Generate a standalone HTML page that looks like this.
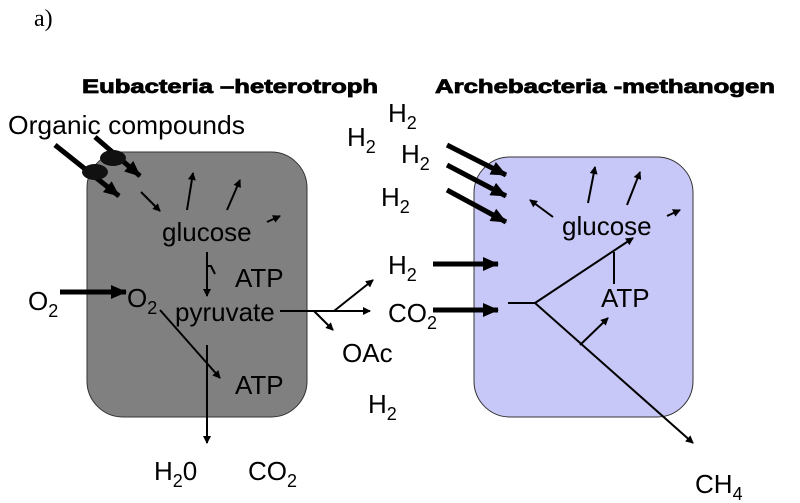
<!DOCTYPE html>
<html><head><meta charset="utf-8"><style>
html,body{margin:0;padding:0;background:#fff;}
svg{display:block;}
text{font-family:"Liberation Sans",sans-serif;fill:#000;}
</style></head><body>
<svg width="800" height="503" viewBox="0 0 800 503" xmlns="http://www.w3.org/2000/svg">
<defs>
<marker id="a" markerWidth="8" markerHeight="8" refX="7" refY="4" orient="auto" markerUnits="userSpaceOnUse"><path d="M0,0 L8,4 L0,8 z" fill="#000"/></marker>
<marker id="b" markerWidth="16" markerHeight="14" refX="15" refY="7" orient="auto" markerUnits="userSpaceOnUse"><path d="M0,0 L16,7 L0,14 z" fill="#000"/></marker>
</defs>
<text x="34" y="26" style="font-family:'Liberation Serif',serif" font-size="24">a)</text>
<text x="82" y="93" font-size="19" font-weight="bold" stroke="#000" stroke-width="0.8" textLength="296" lengthAdjust="spacingAndGlyphs">Eubacteria –heterotroph</text>
<text x="435" y="93" font-size="19" font-weight="bold" stroke="#000" stroke-width="0.8" textLength="340" lengthAdjust="spacingAndGlyphs">Archebacteria -methanogen</text>

<rect x="87" y="152" width="220" height="265" rx="36" fill="#808080" stroke="#333" stroke-width="1"/>
<rect x="474" y="157" width="219" height="260" rx="36" fill="#c8c8f8" stroke="#333" stroke-width="1"/>

<g font-size="26">
<text x="8" y="134" textLength="237" lengthAdjust="spacingAndGlyphs">Organic compounds</text>
</g>
<g stroke="#000" fill="none">
<line x1="55" y1="145" x2="119" y2="196" stroke-width="5" marker-end="url(#b)"/>
<line x1="95" y1="137" x2="140" y2="176" stroke-width="5" marker-end="url(#b)"/>
</g>
<ellipse cx="95" cy="172" rx="13" ry="8" fill="#111"/>
<ellipse cx="113" cy="158" rx="13" ry="8" fill="#111"/>
<g stroke="#000" stroke-width="2" fill="none">
<line x1="141" y1="192" x2="160" y2="211" marker-end="url(#a)"/>
<line x1="187" y1="210" x2="193" y2="173" marker-end="url(#a)"/>
<line x1="227" y1="210" x2="240" y2="180" marker-end="url(#a)"/>
<line x1="267" y1="222" x2="280" y2="216" marker-end="url(#a)"/>
<line x1="207" y1="252" x2="207" y2="296" marker-end="url(#a)"/>
<polyline points="207,266 211,266 215,274"/>
<line x1="60" y1="292" x2="126" y2="292" stroke-width="5" marker-end="url(#b)"/>
<line x1="160" y1="310" x2="220" y2="378" marker-end="url(#a)"/>
<line x1="207" y1="345" x2="207" y2="443" marker-end="url(#a)"/>
<line x1="280" y1="311" x2="370" y2="311" marker-end="url(#a)"/>
<line x1="334" y1="311" x2="373" y2="280" marker-end="url(#a)"/>
<line x1="314" y1="311" x2="333" y2="330" marker-end="url(#a)"/>
</g>
<g font-size="26">
<text x="162" y="241">glucose</text>
<text x="235" y="287">ATP</text>
<text x="28" y="310">O<tspan font-size="18" dy="7">2</tspan></text>
<text x="127" y="307">O<tspan font-size="18" dy="7">2</tspan></text>
<text x="175" y="321">pyruvate</text>
<text x="235" y="394">ATP</text>
<text x="154" y="480">H<tspan font-size="18" dy="7">2</tspan><tspan dy="-7">0</tspan></text>
<text x="248" y="480">CO<tspan font-size="18" dy="7">2</tspan></text>

<text x="388" y="122">H<tspan font-size="18" dy="7">2</tspan></text>
<text x="347" y="146">H<tspan font-size="18" dy="7">2</tspan></text>
<text x="401" y="163">H<tspan font-size="18" dy="7">2</tspan></text>
<text x="381" y="206">H<tspan font-size="18" dy="7">2</tspan></text>
<text x="388" y="274">H<tspan font-size="18" dy="7">2</tspan></text>
<text x="388" y="322">CO<tspan font-size="18" dy="7">2</tspan></text>
<text x="342" y="362">OAc</text>
<text x="368" y="413">H<tspan font-size="18" dy="7">2</tspan></text>
</g>

<g stroke="#000" fill="none">
<line x1="447" y1="145" x2="506" y2="175" stroke-width="5" marker-end="url(#b)"/>
<line x1="447" y1="165" x2="506" y2="196" stroke-width="5" marker-end="url(#b)"/>
<line x1="447" y1="190" x2="506" y2="222" stroke-width="5" marker-end="url(#b)"/>
<line x1="433" y1="264" x2="498" y2="264" stroke-width="5" marker-end="url(#b)"/>
<line x1="433" y1="310" x2="498" y2="310" stroke-width="5" marker-end="url(#b)"/>
</g>
<g stroke="#000" stroke-width="2" fill="none">
<line x1="553" y1="217" x2="530" y2="200" marker-end="url(#a)"/>
<line x1="588" y1="203" x2="595" y2="167" marker-end="url(#a)"/>
<line x1="627" y1="205" x2="640" y2="172" marker-end="url(#a)"/>
<line x1="667" y1="216" x2="680" y2="210" marker-end="url(#a)"/>
<line x1="508" y1="303" x2="535" y2="303"/>
<line x1="535" y1="303" x2="633" y2="238" marker-end="url(#a)"/>
<line x1="535" y1="303" x2="693" y2="443" marker-end="url(#a)"/>
<line x1="614" y1="284" x2="614" y2="252"/>
<line x1="580" y1="345" x2="608" y2="318" marker-end="url(#a)"/>
</g>
<g font-size="26">
<text x="562" y="235">glucose</text>
<text x="601" y="307">ATP</text>
<text x="695" y="493">CH<tspan font-size="18" dy="7">4</tspan></text>
</g>
</svg>
</body></html>
